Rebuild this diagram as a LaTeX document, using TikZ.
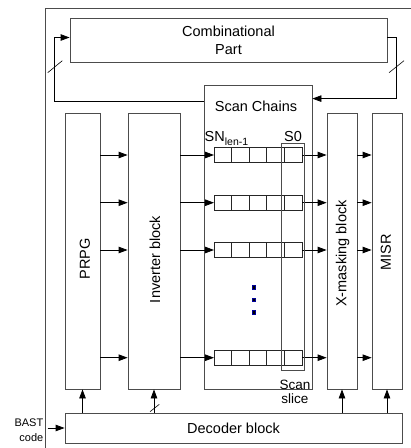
\documentclass[tikz,border=0pt]{standalone}
\usepackage{fontspec}
\setmainfont{Liberation Sans}
\usetikzlibrary{arrows.meta, calc}
\tikzset{
  blk/.style={draw=black!70, line width=0.8pt, inner sep=0pt, font=\fontsize{14.5}{18}\selectfont, align=center},
  cell/.style={draw=black!85, line width=0.8pt, minimum width=17.6pt, minimum height=15pt, inner sep=0pt, outer sep=0pt},
  lbl/.style={font=\fontsize{14.5}{18}\selectfont, align=center, inner sep=0pt},
  flow/.style={-{Triangle[length=9pt, width=6.5pt]}, line width=0.8pt},
  tick/.style={line width=0.6pt},
  dot/.style={fill=black, draw=blue!60!black, line width=0.6pt, minimum size=3.5pt, inner sep=0pt},
}

\begin{document}
\begin{tikzpicture}[x=1pt, y=-1pt]
  \useasboundingbox (0,0) rectangle (411,448);
  \draw[black!70, line width=0.8pt] (411,8) -- (45,8) -- (45,448);
  \node[blk, minimum width=317pt, minimum height=44pt] (comb) at (228.5,40) {Combinational\\Part};
  \node[blk, minimum width=108pt, minimum height=304pt] (scan) at (258,237) {};
  \node[lbl] (scanlbl) at (256,106) {Scan Chains};
  \node[blk, minimum width=35pt, minimum height=276pt] (prpg) at (82.5,251) {};
  \node[blk, minimum width=52pt, minimum height=276pt] (inv) at (154,251) {};
  \node[blk, minimum width=30pt, minimum height=276pt] (xmask) at (342,251) {};
  \node[blk, minimum width=30pt, minimum height=276pt] (misr) at (387,251) {};
  \node[blk, minimum width=337pt, minimum height=30pt] (dec) at (233.5,428) {Decoder block};
  \node[lbl, rotate=90] (prpglbl) at (85,259) {PRPG};
  \node[lbl, rotate=90] (invlbl) at (155,259.5) {Inverter block};
  \node[lbl, rotate=90] (xmasklbl) at (342.7,253.5) {X-masking block};
  \node[lbl, rotate=90] (misrlbl) at (386,252) {MISR};
  \foreach \r/\y in {1/155, 2/202.7, 3/250, 4/357.7} {
    \foreach \i in {1,...,5}
      \node[cell] (c\r-\i) at ({214+17.6*(\i-0.5)},\y) {};
    \draw[flow] (prpg.east |- c\r-1) -- (inv.west |- c\r-1);
    \draw[flow] (inv.east |- c\r-1) -- (c\r-1.west);
    \draw[flow] (c\r-5.east) -- (xmask.west |- c\r-5);
    \draw[flow] (xmask.east |- c\r-5) -- (misr.west |- c\r-5);
  }
  \node[draw=black!70, line width=0.8pt, minimum width=22.3pt, minimum height=227pt, inner sep=0pt] (slice) at (292.85,256.5) {};
  \node[lbl, anchor=base west] (snlbl) at (204.5,141) {SN\raisebox{-4.5pt}{\fontsize{10.5}{12}\selectfont len-1}};
  \node[lbl, anchor=base west] (s0lbl) at (284,141) {S0};
  \node[lbl, font=\fontsize{13.5}{14}\selectfont, anchor=north] (slicelbl) at (295,379.5) {Scan\\slice};
  \foreach \k/\y in {1/287.3, 2/300, 3/312.3} \node[dot] (dot\k) at (254,\y) {};
  \draw[flow] ([yshift=-17pt]scan.north west) -| ([shift={(-15pt,2.5pt)}]comb.west) -- ([yshift=2.5pt]comb.west);
  \draw[flow] ([yshift=2.5pt]comb.east) -- ++(9pt,0) |- ([yshift=-14pt]scan.north east);
  \draw[tick] (47.7,72.7) -- (62.3,60.7);
  \draw[tick] (389,72.7) -- (404,60.7);
  \foreach \b in {prpg, inv, xmask, misr} \draw[flow] (dec.north -| \b) -- (\b.south);
  \draw[tick] (150,411.7) -- (159.3,404.3);
  \node[font=\fontsize{11}{15.5}\selectfont, align=right, inner sep=0pt, anchor=east] (bast) at (43.5,430) {BAST\\code};
  \draw[flow] ($(bast.east |- dec.west)+(4pt,0)$) -- (dec.west);
\end{tikzpicture}
\end{document}
